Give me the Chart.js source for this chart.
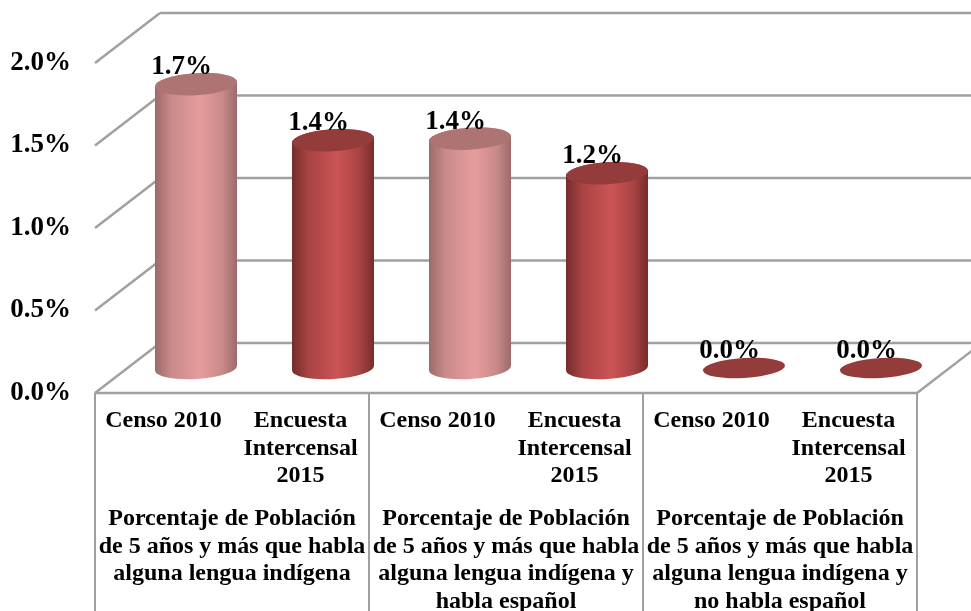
<!DOCTYPE html>
<html>
<head>
<meta charset="utf-8">
<title>Población que habla lengua indígena</title>
<script src="https://cdn.jsdelivr.net/npm/chart.js@4"></script>
<style>
  html, body { margin: 0; padding: 0; background: #fff; }
  canvas { display: block; }
</style>
</head>
<body>
<canvas id="lenguaChart" width="971" height="611"></canvas>
<script>
const categories = [
    'Censo 2010', ['Encuesta', 'Intercensal', '2015'],
    'Censo 2010', ['Encuesta', 'Intercensal', '2015'],
    'Censo 2010', ['Encuesta', 'Intercensal', '2015']
];
const groups = [
    ['Porcentaje de Población', 'de 5 años y más que habla', 'alguna lengua indígena'],
    ['Porcentaje de Población', 'de 5 años y más que habla', 'alguna lengua indígena y', 'habla español'],
    ['Porcentaje de Población', 'de 5 años y más que habla', 'alguna lengua indígena y', 'no habla español']
];
const values = [1.72, 1.38, 1.39, 1.18, 0.0, 0.0];
const yTicks = [0, 0.5, 1, 1.5, 2];

const FONT = '"Liberation Serif", "Times New Roman", serif';
const GRID_COLOR = '#a0a0a0';
// Profundidad del piso en 3D
const WALL_DX = 65, WALL_DY = -50;
const BAR_DX = 32.5, BAR_DY = -25;
const TILT = -3.5 * Math.PI / 180;

// Colores: [borde, medio, centro, tapa]
const palette = [
    ['#9c6a6a', '#c98a8a', '#e79c9c', '#ae7474'],
    ['#752c2c', '#a94343', '#cc5454', '#943c3c']
];

function line(ctx, x1, y1, x2, y2) {
    ctx.beginPath();
    ctx.moveTo(x1, y1);
    ctx.lineTo(x2, y2);
    ctx.stroke();
}

// Paredes y piso
const wallsPlugin = {
    id: 'walls',
    beforeDatasetsDraw(chart) {
        const { ctx, scales: { x, x2, y } } = chart;
        ctx.save();
        ctx.strokeStyle = GRID_COLOR;
        ctx.lineWidth = 2.5;
        yTicks.forEach(v => {
            const py = y.getPixelForValue(v);
            line(ctx, x.left, py, x.left + WALL_DX, py + WALL_DY);
            line(ctx, x.left + WALL_DX, py + WALL_DY, chart.width, py + WALL_DY);
        });
        const py0 = y.getPixelForValue(0);
        line(ctx, x.left, py0, x.right, py0);
        line(ctx, x.right, py0, x.right + WALL_DX, py0 + WALL_DY);

        // Separadores entre grupos
        const step = x2.width / groups.length;
        ctx.lineWidth = 2;
        for (let i = 0; i <= groups.length; i++) {
            line(ctx, x2.left + step * i, py0, x2.left + step * i, chart.height);
        }
        ctx.restore();
    }
};

// Cilindros y etiquetas de datos
const cylinderPlugin = {
    id: 'cylinders',
    afterDatasetsDraw(chart) {
        const { ctx } = chart;
        const bars = chart.getDatasetMeta(0).data;
        ctx.save();
        bars.forEach((bar, i) => {
            const [edge, mid, center, cap] = palette[i % 2];
            const cx = bar.x + BAR_DX;
            const rx = bar.width / 2;
            const top = bar.y + BAR_DY;
            const base = bar.base + BAR_DY;
            const ry = values[i] > 0 ? 11 : 10;

            if (values[i] > 0) {
                const grad = ctx.createLinearGradient(cx - rx, 0, cx + rx, 0);
                grad.addColorStop(0, edge);
                grad.addColorStop(0.2, mid);
                grad.addColorStop(0.55, center);
                grad.addColorStop(0.82, mid);
                grad.addColorStop(1, edge);
                ctx.fillStyle = grad;
                ctx.beginPath();
                ctx.ellipse(cx, base, rx, ry, TILT, 0, Math.PI);
                ctx.ellipse(cx, top, rx, ry, TILT, Math.PI, Math.PI * 2);
                ctx.closePath();
                ctx.fill();
            }

            ctx.fillStyle = values[i] > 0 ? cap : palette[1][3];
            ctx.beginPath();
            ctx.ellipse(cx, top, rx, ry, TILT, 0, Math.PI * 2);
            ctx.fill();
        });

        ctx.fillStyle = '#000';
        ctx.font = 'bold 27px ' + FONT;
        ctx.textAlign = 'center';
        ctx.textBaseline = 'middle';
        bars.forEach((bar, i) => {
            ctx.fillText(values[i].toFixed(1) + '%', bar.x + 18, bar.y + BAR_DY - 17);
        });
        ctx.restore();
    }
};

new Chart(document.getElementById('lenguaChart'), {
    type: 'bar',
    data: {
        labels: categories,
        datasets: [{
            data: values,
            backgroundColor: 'transparent',
            barPercentage: 1,
            categoryPercentage: 0.6
        }]
    },
    plugins: [wallsPlugin, cylinderPlugin],
    options: {
        responsive: false,
        animation: false,
        layout: { padding: { top: 63, right: 54, left: 0, bottom: 0 } },
        plugins: { legend: { display: false }, tooltip: { enabled: false } },
        scales: {
            y: {
                min: 0,
                max: 2,
                afterFit(scale) { scale.width = 95; },
                afterBuildTicks(scale) { scale.ticks = yTicks.map(value => ({ value })); },
                grid: { display: false },
                border: { display: false },
                ticks: {
                    padding: 16,
                    color: '#000',
                    font: { family: FONT, size: 27, weight: 'bold' },
                    callback: v => v.toFixed(1) + '%'
                }
            },
            x: {
                weight: 0,
                offset: true,
                afterFit(scale) { scale.height = 102; },
                grid: { display: false },
                border: { display: false },
                ticks: {
                    padding: 6,
                    maxRotation: 0,
                    autoSkip: false,
                    color: '#000',
                    font: { family: FONT, size: 24, weight: 'bold', lineHeight: 1.15 }
                }
            },
            x2: {
                type: 'category',
                position: 'bottom',
                weight: 1,
                offset: true,
                labels: groups,
                afterFit(scale) { scale.height = 116; },
                grid: { display: false },
                border: { display: false },
                ticks: {
                    padding: 2,
                    maxRotation: 0,
                    autoSkip: false,
                    color: '#000',
                    font: { family: FONT, size: 24, weight: 'bold', lineHeight: 1.15 }
                }
            }
        }
    }
});
</script>
</body>
</html>
